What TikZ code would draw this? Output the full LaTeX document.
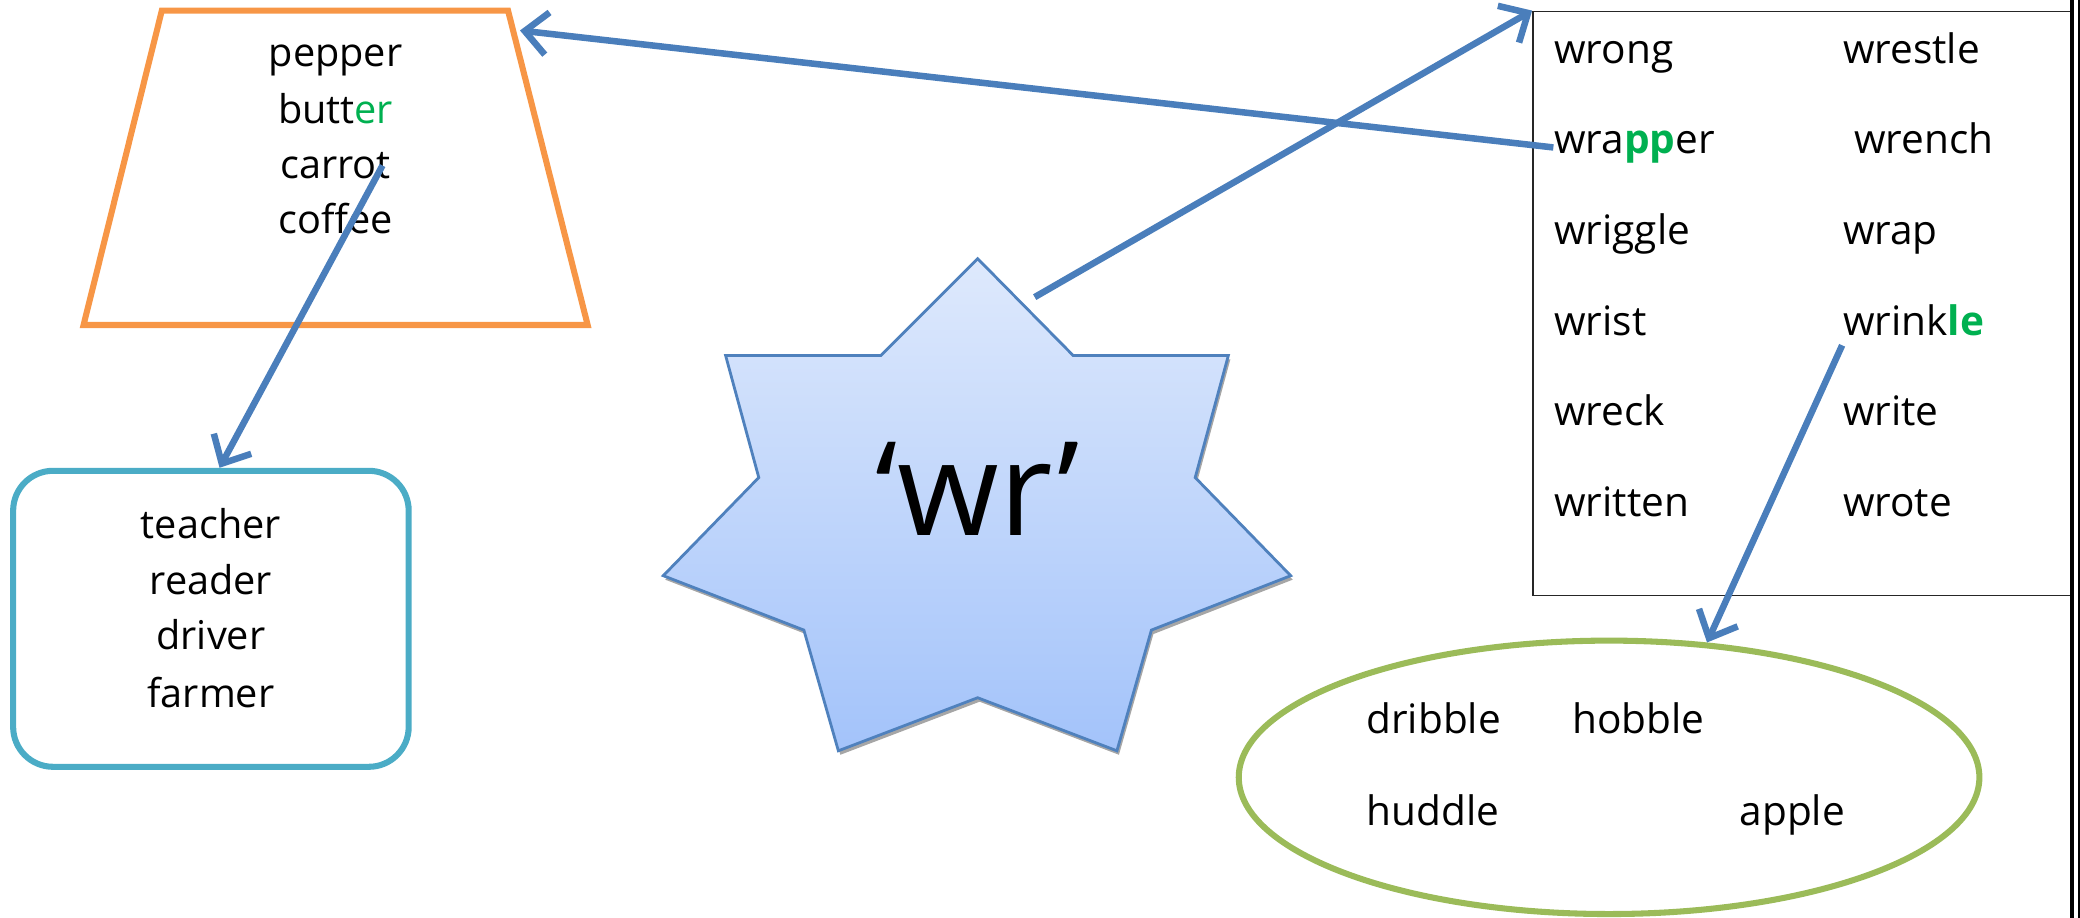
\documentclass[tikz,border=0pt]{standalone}
\usepackage{fontspec}
\setmainfont{Open Sans}
\usetikzlibrary{arrows.meta,shapes.geometric}

\definecolor{linkblue}{RGB}{74,126,187}
\definecolor{trapline}{RGB}{247,150,70}
\definecolor{tealline}{RGB}{75,172,198}
\definecolor{ovalline}{RGB}{155,187,89}
\definecolor{hilite}{RGB}{0,176,80}
\definecolor{startop}{RGB}{222,233,252}
\definecolor{starbot}{RGB}{163,195,250}
\definecolor{starline}{RGB}{79,129,189}

\tikzset{
  word/.style={inner sep=0pt, anchor=base west, font=\fontsize{8.7}{11}\selectfont},
  listword/.style={inner sep=0pt, anchor=base, font=\fontsize{8.5}{10}\selectfont},
  link/.style={linkblue, line width=1.4pt, -{Straight Barb[length=1.7mm,width=3.2mm]}}
}

\begin{document}
\begin{tikzpicture}[x=0.01cm, y=-0.01cm]
            \useasboundingbox (0,0) rectangle (1568,692);

            \coordinate (tA) at (122,8);
            \coordinate (tB) at (383,8);
            \coordinate (tC) at (443,245);
            \coordinate (tD) at (63,245);
            \coordinate (trapIn) at (392,23);
            \draw[trapline, line width=1.3pt] (tA) -- (tB) -- (tC) -- (tD) -- cycle;

            \node[listword] (pepper) at (253,50) {pepper};
            \node[listword] (butter) at (253,93) {butt\textcolor{hilite}{er}};
            \node[listword] (carrot) at (253,134.5) {carrot};
            \node[listword] (coffee) at (253,176) {coffee};

            \node[draw=tealline, line width=1.3pt, rounded corners=0.3cm, minimum width=2.98cm, minimum height=2.23cm, inner sep=0pt] (teal) at (159,466.5) {};
            \node[listword] (teacher) at (159,406) {teacher};
            \node[listword] (reader) at (159,448.5) {reader};
            \node[listword] (driver) at (159,490) {driver};
            \node[listword] (farmer) at (159,533) {farmer};

            \node[draw=black!85, line width=0.4pt, minimum width=4.06cm, minimum height=4.4cm, inner sep=0pt, anchor=north west] (wrbox) at (1155,8) {};
            \node[word] (wrong) at (1171,47.6) {wrong};
            \node[word] (wrapper) at (1171,116) {wra\textcolor{hilite}{\bfseries pp}er};
            \node[word] (wriggle) at (1171,184.5) {wriggle};
            \node[word] (wrist) at (1171,252.8) {wrist};
            \node[word] (wreck) at (1171,321) {wreck};
            \node[word] (written) at (1171,389.4) {written};
            \node[word] (wrestle) at (1388.7,47.6) {wrestle};
            \node[word] (wrench) at (1397,116) {wrench};
            \node[word] (wrap) at (1388.7,184.5) {wrap};
            \node[word] (wrinkle) at (1388.7,252.8) {wrink\textcolor{hilite}{\bfseries le}};
            \node[word] (write) at (1388.7,321) {write};
            \node[word] (wrote) at (1388.7,389.4) {wrote};

            \node[draw=ovalline, line width=1.3pt, ellipse, minimum width=5.58cm, minimum height=2.06cm, inner sep=0pt] (oval) at (1213,586) {};
            \node[word] (dribble) at (1029.4,552.8) {dribble};
            \node[word] (hobble) at (1184.7,552.8) {hobble};
            \node[word] (huddle) at (1029.4,622) {huddle};
            \node[word] (apple) at (1310.7,622) {apple};

            \fill[gray!70] (738.5,198) -- (810.5,271) -- (927.5,271) -- (902.5,363) -- (974.5,437) -- (869.5,478) -- (843.5,569) -- (738.5,529) -- (633.5,569) -- (607.5,478) -- (501.5,437) -- (573.5,363) -- (548.5,271) -- (665.5,271) -- cycle;
            \path[draw=starline, line width=0.6pt, top color=startop, bottom color=starbot] (737,195) -- (809,268) -- (926,268) -- (901,360) -- (973,434) -- (868,475) -- (842,566) -- (737,526) -- (632,566) -- (606,475) -- (500,434) -- (572,360) -- (547,268) -- (664,268) -- cycle;
            \node[inner sep=0pt, anchor=base, font=\fontsize{28}{30}\selectfont] (wr) at (737,404) {‘wr’};
            \coordinate (starOut) at (780,224);

            \draw[link] (wrapper.west) -- (trapIn);
            \draw[link] (starOut) -- (wrbox.north west);
            \draw[link] ([xshift=-0.07cm]carrot.east) -- ([xshift=0.065cm]teal.north);
            \draw[link] ([yshift=-0.065cm]wrinkle.south west) -- (oval.54);

            \fill[black] (1560.5,0) rectangle (1563.5,692);
            \fill[black] (1566.5,0) rectangle (1568,692);
        \end{tikzpicture}
\end{document}
